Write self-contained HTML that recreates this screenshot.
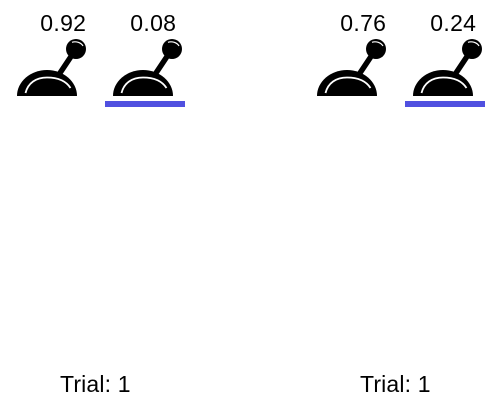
<!DOCTYPE html>
<html>
<head>
<meta charset="utf-8">
<style>
html,body{margin:0;padding:0;background:#fff;}
svg{display:block;}
text{font-family:"Liberation Sans",sans-serif;fill:#000;}
</style>
</head>
<body>
<svg id="chart" width="500" height="400" viewBox="0 0 500 400" xmlns="http://www.w3.org/2000/svg"></svg>
<script>
const armValues = [0.92, 0.08, 0.76, 0.24];
const armSelected = [false, true, false, true];
const trialNumbers = [1, 1];

const NS = 'http://www.w3.org/2000/svg';
const svg = document.getElementById('chart');
function armX(i) { return (i >> 1) * 300 + (i % 2) * 96; }
function labelX(i) { return (i >> 1) * 300 + (i % 2) * 90 + 40.3; }
function make(tag, attrs, parent) {
  const el = document.createElementNS(NS, tag);
  for (const k in attrs) el.setAttribute(k, attrs[k]);
  parent.appendChild(el);
  return el;
}
armValues.forEach(function (value, i) {
  const g = make('g', { transform: 'translate(' + armX(i) + ',0)' }, svg);
  
  

  const stick = make('path', { d: 'M58 76L74 52', stroke: '#000', 'stroke-width': 5.5, fill: 'none' }, g);
  
  

  const base = make('path', { d: 'M17 96A30 26 0 0 1 77 96Z', fill: '#000' }, g);
  
  

  const baseGlint = make('path', { d: 'M25.5 93C28 83 36 77.5 47 77.5C58 77.5 66 81 70.5 88', stroke: '#fff', 'stroke-width': 1.8, fill: 'none' }, g);
  
  

  const ball = make('circle', { cx: 76, cy: 49, r: 10, fill: '#000' }, g);
  
  

  const ballGlint = make('path', { d: 'M72 42.3C76 41 81 42.5 83 46', stroke: '#fff', 'stroke-width': 1.2, fill: 'none' }, g);
  
  

  if (armSelected[i]) {
    const bar = make('rect', { x: 9, y: 101, width: 80, height: 6, fill: '#5050e0' }, g);
    
    
  }

  const label = make('text', { x: labelX(i), y: 31, 'font-size': 23, 'letter-spacing': 0.3 }, svg);
  label.textContent = value.toFixed(2);
  
  
});
trialNumbers.forEach(function (n, i) {
  const t = make('text', { x: 60 + i * 300, y: 392, 'font-size': 23, 'letter-spacing': 0.15 }, svg);
  t.textContent = 'Trial: ' + n;
  
  
});
</script>
</body>
</html>
